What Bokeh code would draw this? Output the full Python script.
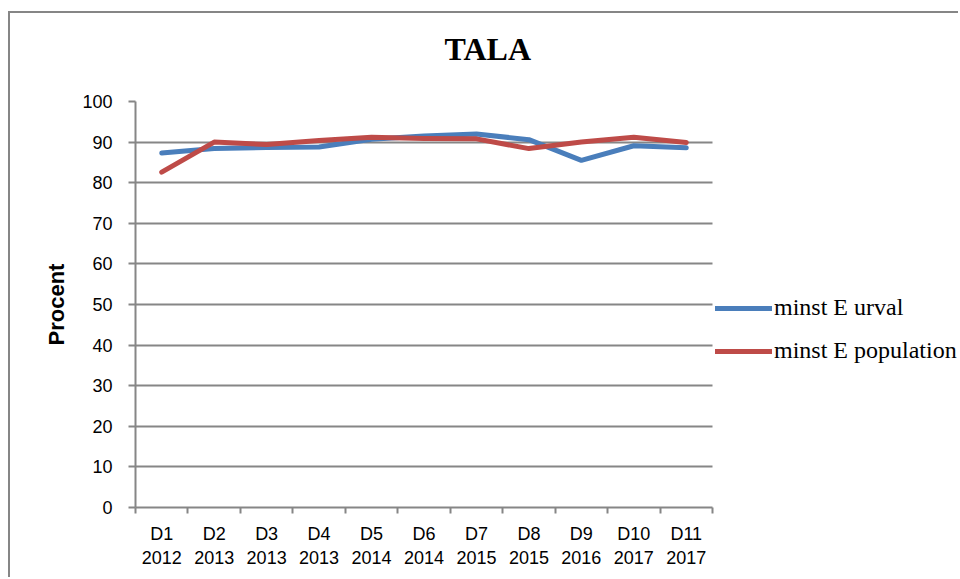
from bokeh.plotting import figure
from bokeh.models import Range1d, FixedTicker, Legend, LegendItem, ColumnDataSource, Title
from bokeh.embed import file_html
from bokeh.resources import INLINE

title = "TALA"
y_label = "Procent"
categories = ["D1\n2012", "D2\n2013", "D3\n2013", "D4\n2013", "D5\n2014", "D6\n2014",
              "D7\n2015", "D8\n2015", "D9\n2016", "D10\n2017", "D11\n2017"]
urval = [87.3, 88.4, 88.7, 88.8, 90.7, 91.5, 92.0, 90.6, 85.5, 89.1, 88.6]
population = [82.6, 90.0, 89.4, 90.4, 91.2, 90.9, 90.8, 88.4, 90.0, 91.2, 89.9]
series_names = ["minst E urval", "minst E population"]
y_ticks = list(range(0, 101, 10))

GRAY = "#868686"
BLUE = "#4A7EBB"
RED = "#BE4B48"

n = len(categories)
xs = [i + 0.5 for i in range(n)]
src = ColumnDataSource(dict(x=xs, urval=urval, population=population))

# plot area spans 577 px for the n categories; the frame continues to the right edge for the legend
PLOT_W = 577
FRAME_W = 950 - 125
x_end = n * FRAME_W / PLOT_W

p = figure(width=950, height=566, output_backend="svg", toolbar_location=None, title=None,
           x_range=Range1d(0, x_end), y_range=Range1d(0, 100),
           min_border_left=125, min_border_right=0, min_border_top=88, min_border_bottom=72)
p.styles = {"margin-top": "11px", "margin-left": "8px",
            "border-top": f"2px solid {GRAY}", "border-left": f"2px solid {GRAY}"}

# spacer between frame and title, then the title itself
p.add_layout(Title(text=" ", text_font_size="1px", standoff=17), "above")
p.add_layout(Title(text=title, align="left", offset=309, standoff=30,
                   text_font="Liberation Serif", text_font_size="32px",
                   text_font_style="bold", text_color="black"), "above")

p.outline_line_color = None
p.background_fill_color = "white"
p.border_fill_color = "white"

# horizontal grid limited to the category span
try:
    p.ygrid.cross_bounds = (0, n)
    p.ygrid.grid_line_color = GRAY
    p.ygrid.grid_line_width = 2
except Exception:
    p.ygrid.visible = False
    p.segment(x0=0, x1=n, y0=y_ticks[1:], y1=y_ticks[1:], line_color=GRAY, line_width=2)

r1 = p.line("x", "urval", source=src, line_color=BLUE, line_width=5, line_join="round", line_cap="round")
r2 = p.line("x", "population", source=src, line_color=RED, line_width=5, line_join="round", line_cap="round")

# x axis
p.xaxis.bounds = (0, n)
p.xaxis.ticker = FixedTicker(ticks=xs, minor_ticks=list(range(n + 1)))
p.xaxis.major_label_overrides = {x: c for x, c in zip(xs, categories)}
p.xaxis.major_tick_out = 0
p.xaxis.major_tick_in = 0
p.xaxis.minor_tick_out = 6
p.xaxis.minor_tick_in = 0
p.xaxis.minor_tick_line_color = GRAY
p.xaxis.minor_tick_line_width = 2
p.xaxis.axis_line_color = GRAY
p.xaxis.axis_line_width = 2
p.xaxis.major_label_text_font = "Liberation Sans"
p.xaxis.major_label_text_font_size = "18px"
p.xaxis.major_label_text_color = "black"
p.xaxis.major_label_standoff = 10
p.xgrid.visible = False

# y axis
p.yaxis.ticker = FixedTicker(ticks=y_ticks)
p.yaxis.major_tick_out = 7
p.yaxis.major_tick_in = 0
p.yaxis.minor_tick_line_color = None
p.yaxis.major_tick_line_color = GRAY
p.yaxis.major_tick_line_width = 2
p.yaxis.axis_line_color = GRAY
p.yaxis.axis_line_width = 2
p.yaxis.major_label_text_font = "Liberation Sans"
p.yaxis.major_label_text_font_size = "18px"
p.yaxis.major_label_text_color = "black"
p.yaxis.major_label_standoff = 16
p.yaxis.axis_label = y_label
p.yaxis.axis_label_text_font = "Liberation Sans"
p.yaxis.axis_label_text_font_size = "22px"
p.yaxis.axis_label_text_font_style = "bold"
p.yaxis.axis_label_text_color = "black"
p.yaxis.axis_label_standoff = 10

legend = Legend(items=[LegendItem(label=series_names[0], renderers=[r1]),
                       LegendItem(label=series_names[1], renderers=[r2])],
                location=(PLOT_W + 3, 143), orientation="vertical",
                glyph_width=57, glyph_height=24, label_height=24, spacing=16,
                padding=0, margin=0, label_standoff=2,
                label_text_font="Liberation Serif", label_text_font_size="24px",
                label_text_color="black", border_line_color=None,
                background_fill_alpha=0)
p.add_layout(legend)

open("out.html", "w").write(file_html(p, INLINE))
